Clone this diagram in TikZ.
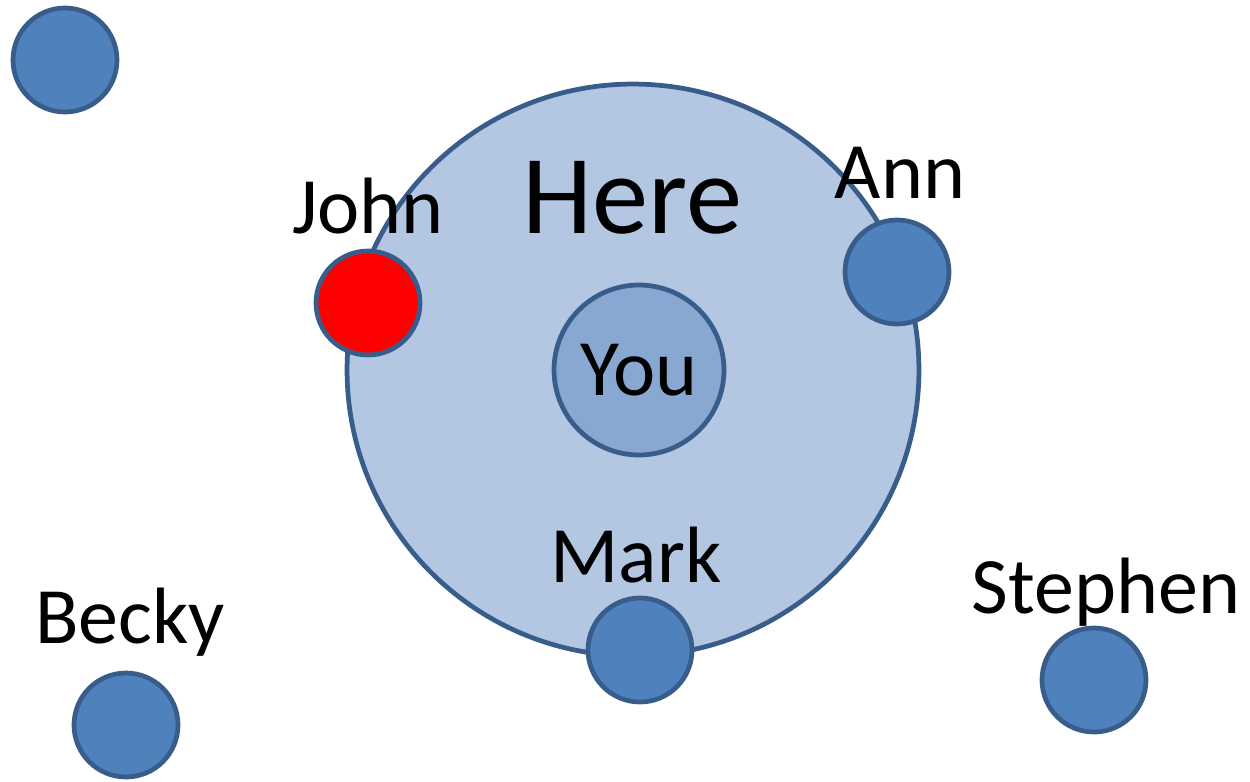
\documentclass[tikz,border=0pt]{standalone}
\usepackage{fontspec}
\setmainfont{Carlito}
\usetikzlibrary{positioning}
\definecolor{rimblue}{HTML}{385D8A}
\definecolor{zonefill}{HTML}{B3C7E3}
\definecolor{youfill}{HTML}{88A8D2}
\definecolor{dotfill}{HTML}{4F81BD}

\begin{document}
\begin{tikzpicture}[x=0.02cm,y=-0.02cm,font=\fontsize{45.5}{50}\selectfont,
  person/.style={circle,draw=rimblue,line width=0.095cm,inner sep=0pt,minimum size=2.08cm,fill=dotfill},
  tag/.style={anchor=base,inner sep=0pt}]
\useasboundingbox (0,0) rectangle (1250,781);
\node[circle,draw=rimblue,line width=0.095cm,fill=zonefill,minimum size=11.44cm] (here) at (633,370) {};
\node[circle,draw=rimblue,line width=0.095cm,fill=youfill,minimum size=3.4cm,inner sep=0pt] (you) at (639,370) {};
\node[tag] at (639,395) {You};
\node[person] (stray) at (65,60) {};
\node[person,fill=red] (john) at (368,303) {};
\node[person] (ann) at (897,272) {};
\node[person] (mark) at (640,650) {};
\node[person] (becky) at (126,725) {};
\node[person] (stephen) at (1094,680) {};
\node[tag,font=\fontsize{64}{70}\selectfont] at (632,233) {Here};
\node[tag] at (368,233) {John};
\node[tag] at (900,198) {Ann};
\node[tag] at (636,582) {Mark};
\node[tag] at (130,643) {Becky};
\node[tag] at (1106,613) {Stephen};
\end{tikzpicture}
\end{document}
